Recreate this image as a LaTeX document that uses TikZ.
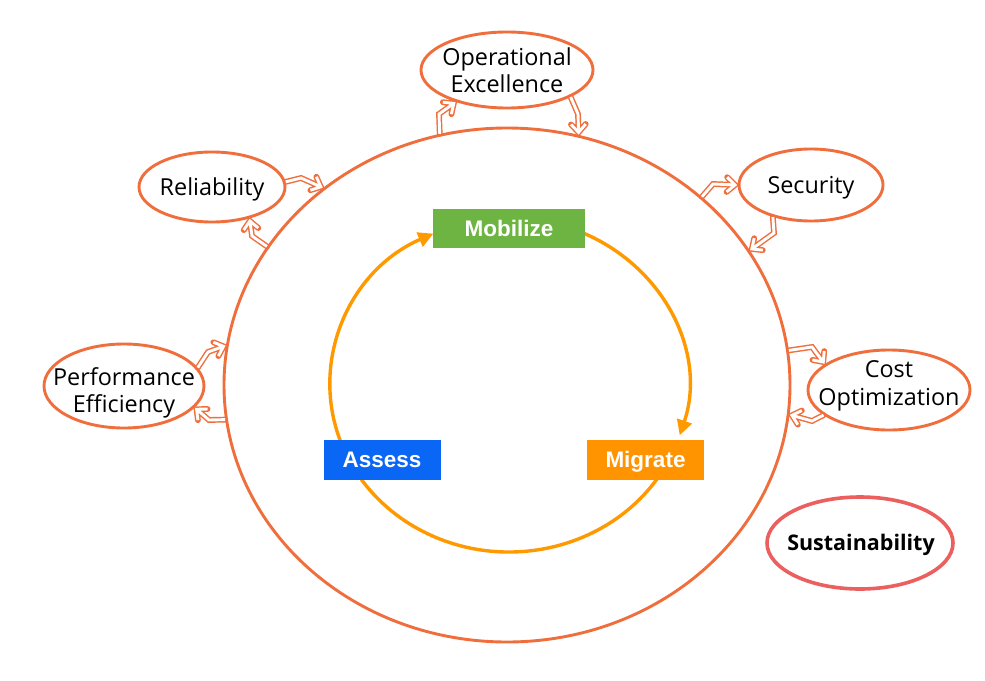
\documentclass[tikz,border=0pt]{standalone}
\usepackage{fontspec}
\setmainfont{Open Sans}
\newfontfamily\boxfont{Liberation Sans}
\usetikzlibrary{shapes.geometric,arrows.meta,calc}
\definecolor{ringc}{RGB}{240,110,60}
\definecolor{sustc}{RGB}{235,95,95}
\definecolor{cyc}{RGB}{255,153,0}
\definecolor{mobc}{RGB}{110,180,66}
\definecolor{assc}{RGB}{10,102,245}
\definecolor{migc}{RGB}{255,148,0}
\newcommand{\hollowarr}[3]{%
  \draw[harrow] (#1) -- (#2) -- ($(#3)!2.5pt!(#2)$)
    ($($(#3)!2.5pt!(#2)$)!11pt!42:(#2)$) -- ($(#3)!2.5pt!(#2)$) -- ($($(#3)!2.5pt!(#2)$)!11pt!-42:(#2)$);}
\begin{document}
\begin{tikzpicture}[x=1pt,y=-1pt,
  pillar/.style={draw=ringc, line width=2.9pt, ellipse, inner sep=0pt},
  ptext/.style={font=\fontsize{23.4}{27.5}\selectfont, align=center, text=black},
  phase/.style={rectangle, inner sep=0pt, minimum height=40pt, text height=16pt, text depth=0pt,
    text=white, font=\boxfont\bfseries\fontsize{22.5}{26}\selectfont},
  cyclearc/.style={draw=cyc, line width=3.4pt},
  harrow/.style={draw=ringc, line width=5.8pt, line cap=round, line join=miter,
    postaction={draw=white, line width=2.9pt, line cap=butt}}
]
\useasboundingbox[fill=white] (0,0) rectangle (985,680);

% outer ring
\node[pillar, minimum width=566pt, minimum height=514pt] (ring) at (507,385) {};

% inner cycle
\coordinate (cc) at (509,385);
\draw[cyclearc, -{Triangle[length=15pt,width=15pt]}]
  ([shift={(-68:179 and 167)}]cc) arc[start angle=-68, end angle=17.5, x radius=179, y radius=167];
\draw[cyclearc]
  ([shift={(30:179 and 167)}]cc) arc[start angle=30, end angle=150, x radius=179, y radius=167];
\draw[cyclearc, -{Triangle[length=15pt,width=15pt]}]
  ([shift={(160:179 and 167)}]cc) arc[start angle=160, end angle=245, x radius=179, y radius=167];

% phases
\node[phase, fill=mobc, minimum width=152pt, minimum height=39pt] (mob) at (509,228.5) {Mobilize};
\node[phase, fill=assc, minimum width=117pt] (ass) at (382,459.5) {Assess};
\node[phase, fill=migc, minimum width=117pt] (mig) at (645.5,459.5) {Migrate};

% pillars
\node[pillar, minimum width=172pt, minimum height=76pt] (oe) at (507,70) {};
\node[pillar, minimum width=146pt, minimum height=70pt] (rel) at (212,187) {};
\node[pillar, minimum width=144pt, minimum height=72pt] (sec) at (811,185) {};
\node[pillar, minimum width=162pt, minimum height=80pt] (cost) at (889,390) {};
\node[pillar, minimum width=160pt, minimum height=84pt] (perf) at (124,386) {};
\node[pillar, draw=sustc, line width=3.6pt, minimum width=186pt, minimum height=92pt] (sust) at (860,543) {};

\node[ptext] (oet) at (507,70) {Operational\\Excellence};
\node[ptext, text height=16.5pt, text depth=0pt] (relt) at (212,187) {Reliability};
\node[ptext, text height=16.5pt, text depth=0pt] (sect) at (811,185) {Security};
\node[ptext] (costt) at (889,386) {Cost\\Optimization};
\node[ptext] (perft) at (124,393) {Performance\\Efficiency};
\node[ptext, font=\bfseries\fontsize{21.5}{26}\selectfont, text height=15.5pt, text depth=0pt] (sustt) at (861,543) {Sustainability};

% hollow arrows
\coordinate (b1) at (439,114);
\coordinate (b2) at (578,114);
\coordinate (b3) at (301,178);
\coordinate (b4) at (252,236);
\coordinate (b5) at (713,184);
\coordinate (b6) at (774,233);
\coordinate (b7) at (812,347);
\coordinate (b8) at (812,421);
\coordinate (b9) at (208,352);
\coordinate (b10) at (209,420);
\hollowarr{ring.105.1}{b1}{oe.-148.2}
\hollowarr{oe.-23.9}{b2}{ring.74.6}
\hollowarr{rel.4}{b3}{ring.133.9}
\hollowarr{ring.150.3}{b4}{rel.-40.7}
\hollowarr{ring.44.7}{b5}{sec.180.8}
\hollowarr{sec.220.7}{b6}{ring.29.2}
\hollowarr{ring.7.5}{b7}{cost.158.4}
\hollowarr{cost.201.2}{b8}{ring.-6.5}
\hollowarr{perf.14}{b9}{ring.172.5}
\hollowarr{ring.187.1}{b10}{perf.-17.7}
\end{tikzpicture}
\end{document}
